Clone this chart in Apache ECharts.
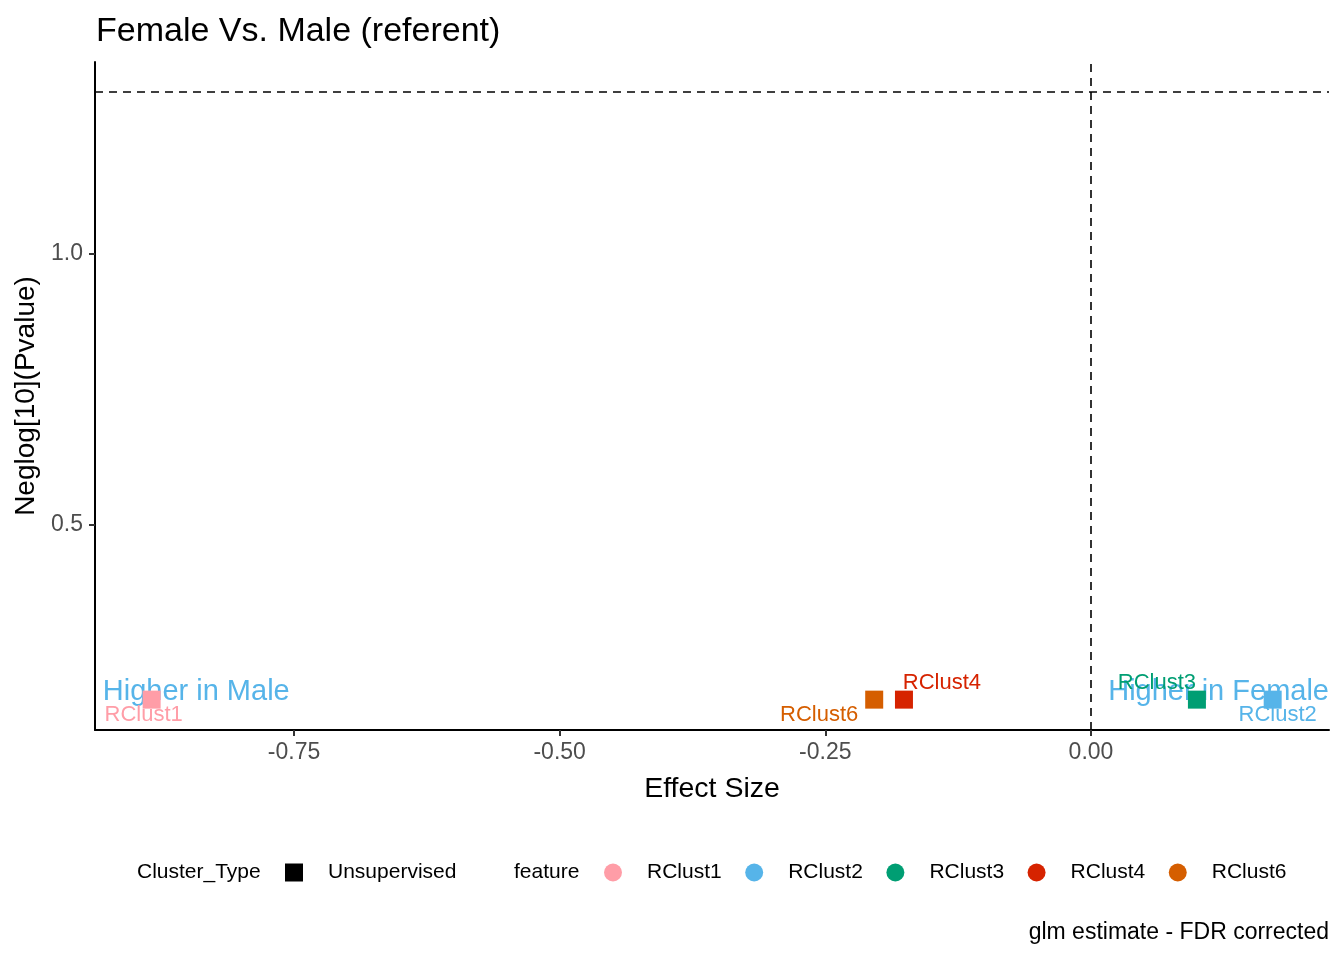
<!DOCTYPE html>
<html>
<head>
<meta charset="utf-8">
<script src="https://cdn.jsdelivr.net/npm/echarts@6/dist/echarts.min.js"></script>
<style>
html,body{margin:0;padding:0;background:#fff;}
#chart{width:1344px;height:960px;}
</style>
</head>
<body>
<div id="chart"></div>
<script>
// ---- data ----
const features = ['RClust1', 'RClust2', 'RClust3', 'RClust4', 'RClust6'];
const effectSize = [-0.884, 0.171, 0.0997, -0.176, -0.204];
const negLogP = [0.178, 0.178, 0.178, 0.178, 0.178];
const clusterTypes = ['Unsupervised'];
const xTicks = [-0.75, -0.5, -0.25, 0];
const yTicks = [0.5, 1.0];
const annotationText = ['Higher in Male', 'Higher in Female'];
const annotationX = [-0.93, 0.224];
const annotationY = [0.193, 0.193];
const pThreshold = 1.30103;
const xRange = [-0.9373, 0.224];
const yRange = [0.122, 1.354];

// ---- styles ----
const FONT = "'Liberation Sans', Arial, sans-serif";
const featureColors = {
  RClust1: '#FF9DA7', RClust2: '#56B4E9', RClust3: '#009E73',
  RClust4: '#D62300', RClust6: '#D55E00'
};
const labelOffsets = {
  RClust1: [-8, 15], RClust2: [5, 15], RClust3: [-40, -17],
  RClust4: [38, -17], RClust6: [-55, 15]
};
const annotationAlign = ['left', 'right'];
const annotationColor = '#56B4E9';

const series = [];
features.forEach((f, i) => {
  series.push({
    name: f,
    type: 'scatter',
    symbol: 'rect',
    symbolSize: 18,
    z: 5,
    itemStyle: { color: featureColors[f], opacity: 1 },
    data: [[effectSize[i], negLogP[i]]],
    label: {
      show: true,
      position: 'inside',
      offset: labelOffsets[f],
      formatter: f,
      color: featureColors[f],
      fontSize: 22,
      fontFamily: FONT
    },
    emphasis: { disabled: true }
  });
});
series.push({
  name: clusterTypes[0],
  type: 'scatter',
  symbol: 'rect',
  itemStyle: { color: '#000', opacity: 1 },
  data: []
});
series.push({
  name: 'annotations',
  type: 'scatter',
  symbolSize: 0,
  z: 4,
  silent: true,
  itemStyle: { opacity: 1 },
  data: annotationText.map((t, i) => ({
    value: [annotationX[i], annotationY[i]],
    label: {
      show: true,
      position: 'inside',
      formatter: t,
      align: annotationAlign[i],
      verticalAlign: 'middle',
      color: annotationColor,
      fontSize: 29,
      fontFamily: FONT
    }
  })),
  markLine: {
    silent: true,
    symbol: 'none',
    label: { show: false },
    lineStyle: { color: '#000', type: [8, 6], width: 1.6, opacity: 1 },
    data: [{ yAxis: pThreshold }, { xAxis: 0 }]
  }
});

const chart = echarts.init(document.getElementById('chart'));
chart.setOption({
  backgroundColor: '#fff',
  animation: false,
  textStyle: { fontFamily: FONT },
  title: [
    {
      text: 'Female Vs. Male (referent)',
      left: 91, top: 10,
      textStyle: { fontSize: 34, fontWeight: 'normal', color: '#000', fontFamily: FONT }
    },
    {
      text: 'glm estimate - FDR corrected',
      right: 15, top: 921,
      padding: 0,
      textStyle: { fontSize: 23, fontWeight: 'normal', color: '#000', fontFamily: FONT }
    }
  ],
  grid: { left: 95, right: 15, top: 62, bottom: 230, containLabel: false },
  xAxis: {
    type: 'value',
    min: xRange[0], max: xRange[1],
    name: 'Effect Size',
    nameLocation: 'middle',
    nameGap: 45,
    nameTextStyle: { fontSize: 28.5, color: '#000', fontFamily: FONT },
    axisLine: { onZero: false, lineStyle: { color: '#000', width: 2 } },
    axisTick: { show: true, customValues: xTicks, length: 6, lineStyle: { color: '#333', width: 2 } },
    axisLabel: {
      customValues: xTicks,
      formatter: v => v.toFixed(2),
      fontSize: 23, color: '#4D4D4D', margin: 11, fontFamily: FONT
    },
    splitLine: { show: false }
  },
  yAxis: {
    type: 'value',
    min: yRange[0], max: yRange[1],
    name: 'Neglog[10](Pvalue)',
    nameLocation: 'middle',
    nameGap: 53,
    nameRotate: 90,
    nameTextStyle: { fontSize: 28, color: '#000', fontFamily: FONT },
    axisLine: { onZero: false, lineStyle: { color: '#000', width: 2 } },
    axisTick: { show: true, customValues: yTicks, length: 6, lineStyle: { color: '#333', width: 2 } },
    axisLabel: {
      customValues: yTicks,
      formatter: v => v.toFixed(1),
      fontSize: 23, color: '#4D4D4D', margin: 12, fontFamily: FONT
    },
    splitLine: { show: false }
  },
  legend: [
    {
      data: clusterTypes,
      left: 285, top: 862,
      padding: 0,
      icon: 'rect',
      itemWidth: 18, itemHeight: 18,
      selectedMode: false,
      itemStyle: { color: '#000', opacity: 1 },
      textStyle: { fontSize: 21, color: '#000', padding: [0, 0, 0, 20], fontFamily: FONT }
    },
    {
      data: features,
      left: 604, top: 862,
      padding: 0,
      icon: 'circle',
      itemWidth: 18, itemHeight: 18,
      itemGap: 23.5,
      selectedMode: false,
      textStyle: { fontSize: 21, color: '#000', padding: [0, 0, 0, 20], fontFamily: FONT }
    }
  ],
  graphic: [
    { type: 'text', left: 137, top: 862, style: { text: 'Cluster_Type', fontSize: 21, fill: '#000', fontFamily: FONT } },
    { type: 'text', left: 514, top: 862, style: { text: 'feature', fontSize: 21, fill: '#000', fontFamily: FONT } }
  ],
  series: series
});
</script>
</body>
</html>
